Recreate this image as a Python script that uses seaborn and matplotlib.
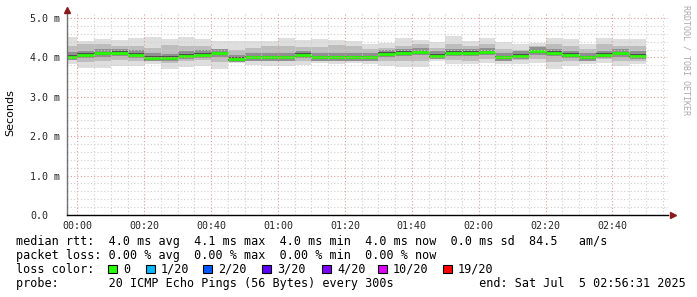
import matplotlib
matplotlib.use("Agg")
import matplotlib.pyplot as plt
from matplotlib.patches import Rectangle
from matplotlib.ticker import MultipleLocator, FixedLocator
import seaborn as sns
import pandas as pd
import numpy as np

# ---- data (minutes since 00:00, seconds in ms units) ----
bar_start = [-5, 0, 5, 10, 15, 20, 25, 30, 35, 40, 45, 50, 55, 60, 65, 70, 75, 80,
             85, 90, 95, 100, 105, 110, 115, 120, 125, 130, 135, 140, 145, 150, 155, 160, 165]
median = [4.02, 4.06, 4.10, 4.11, 4.07, 3.99, 3.98, 4.04, 4.07, 4.10, 3.96, 4.00,
          4.00, 4.00, 4.06, 4.00, 4.00, 4.00, 4.00, 4.08, 4.11, 4.13, 4.04, 4.11,
          4.11, 4.13, 4.00, 4.04, 4.15, 4.11, 4.06, 4.00, 4.06, 4.10, 4.04]
smoke_hi = [4.51, 4.42, 4.47, 4.45, 4.49, 4.51, 4.47, 4.51, 4.47, 4.41, 4.42, 4.41,
            4.41, 4.49, 4.44, 4.47, 4.45, 4.41, 4.34, 4.36, 4.49, 4.44, 4.38, 4.55,
            4.42, 4.48, 4.40, 4.34, 4.36, 4.49, 4.47, 4.34, 4.49, 4.47, 4.47]
smoke_lo = [3.83, 3.72, 3.72, 3.79, 3.79, 3.83, 3.70, 3.75, 3.79, 3.70, 3.87, 3.81,
            3.77, 3.77, 3.81, 3.87, 3.83, 3.87, 3.83, 3.77, 3.75, 3.75, 3.92, 3.83,
            3.83, 3.87, 3.83, 3.83, 3.87, 3.70, 3.79, 3.83, 3.87, 3.79, 3.83]
smoke_mhi = [4.30, 4.33, 4.35, 4.30, 4.28, 4.25, 4.32, 4.28, 4.30, 4.22, 4.20, 4.25,
             4.28, 4.30, 4.27, 4.26, 4.32, 4.28, 4.22, 4.25, 4.30, 4.33, 4.25, 4.35,
             4.30, 4.33, 4.22, 4.20, 4.30, 4.35, 4.30, 4.22, 4.33, 4.30, 4.28]
smoke_mlo = [3.93, 3.88, 3.90, 3.93, 3.92, 3.92, 3.85, 3.90, 3.93, 3.88, 3.92, 3.92,
             3.90, 3.91, 3.92, 3.93, 3.92, 3.94, 3.92, 3.92, 3.90, 3.92, 3.96, 3.93,
             3.92, 3.95, 3.92, 3.93, 3.96, 3.88, 3.90, 3.92, 3.95, 3.92, 3.92]
step = 5

x_tick_pos = [0, 20, 40, 60, 80, 100, 120, 140, 160]
x_tick_labels = ["00:00", "00:20", "00:40", "01:00", "01:20", "01:40", "02:00", "02:20", "02:40"]
y_tick_pos = [0, 1, 2, 3, 4, 5]
y_tick_labels = ["0.0", "1.0 m", "2.0 m", "3.0 m", "4.0 m", "5.0 m"]

loss_labels = ["0", "1/20", "2/20", "3/20", "4/20", "10/20", "19/20"]
loss_colors = ["#26ff00", "#00b8ff", "#0059ff", "#5e00ff", "#7e00ff", "#dd00ff", "#ff0000"]

row1 = "median rtt:  4.0 ms avg  4.1 ms max  4.0 ms min  4.0 ms now  0.0 ms sd  84.5   am/s"
row2 = "packet loss: 0.00 % avg  0.00 % max  0.00 % min  0.00 % now"
row3 = "loss color:"
row4 = "probe:       20 ICMP Echo Pings (56 Bytes) every 300s            end: Sat Jul  5 02:56:31 2025"

# ---- styling ----
sns.set_style("white")
plt.rcParams['font.family'] = ['DejaVu Sans']
MONO = 'DejaVu Sans Mono'

W, H = 697, 297
fig = plt.figure(figsize=(W / 100, H / 100), dpi=100, facecolor="white")
ax = fig.add_axes([67 / W, (H - 215) / H, 601 / W, 202 / H])
ax.set_facecolor("white")

med = np.array(median)
# smoke
ax.bar(bar_start, np.array(smoke_hi) - np.array(smoke_lo), bottom=smoke_lo, width=step,
       align="edge", color="#dedede", linewidth=0, zorder=1)
ax.bar(bar_start, np.array(smoke_mhi) - np.array(smoke_mlo), bottom=smoke_mlo, width=step,
       align="edge", color="#bdbdbd", linewidth=0, zorder=1.1)
ax.bar(bar_start, 0.19, bottom=med - 0.08, width=step,
       align="edge", color="#909090", linewidth=0, zorder=1.2)
ax.bar(bar_start, 0.09, bottom=med - 0.045, width=step,
       align="edge", color="#505050", linewidth=0, zorder=1.3)

# median (one horizontal segment per interval)
rows = []
for i, (s, m) in enumerate(zip(bar_start, median)):
    rows.append({"t": s, "med": m, "bar": i})
    rows.append({"t": s + step, "med": m, "bar": i})
df = pd.DataFrame(rows)
sns.lineplot(data=df, x="t", y="med", units="bar", estimator=None, color=loss_colors[0],
             linewidth=2.0, ax=ax, zorder=2, legend=False, solid_capstyle="butt")

ax.set_xlim(-3.1, 176.6)
ax.set_ylim(0, 5.127)
ax.set_xlabel("")
ax.set_ylabel("")

ax.xaxis.set_major_locator(FixedLocator(x_tick_pos))
ax.xaxis.set_minor_locator(MultipleLocator(5))
ax.yaxis.set_major_locator(FixedLocator(y_tick_pos))
ax.yaxis.set_minor_locator(MultipleLocator(0.2))
ax.set_xticklabels(x_tick_labels, fontfamily=MONO, fontsize=7.2)
ax.set_yticklabels(y_tick_labels, fontfamily=MONO, fontsize=7.2, ha="left")
ax.tick_params(axis="x", which="major", length=2, width=0.8, color="black", pad=2.0)
ax.tick_params(axis="x", which="minor", length=0)
ax.tick_params(axis="y", which="both", length=0, pad=26.6)

ax.set_axisbelow(False)
ax.grid(which="minor", color="#cfcfcf", linestyle=(0, (1, 2)), linewidth=0.8)
ax.grid(which="major", color="#e49a9a", linestyle=(0, (1, 2)), linewidth=0.8)

for sp in ["top", "right"]:
    ax.spines[sp].set_visible(False)
ax.spines["left"].set_color("#707070")
ax.spines["left"].set_linewidth(1.0)
ax.spines["bottom"].set_color("black")
ax.spines["bottom"].set_linewidth(1.0)
ax.spines["left"].set_zorder(3)
ax.spines["bottom"].set_zorder(3)

# arrows
ax.plot([0], [1.015], marker="^", markersize=4, color="#8b1a1a", transform=ax.transAxes,
        clip_on=False, zorder=5)
ax.plot([1.008], [0], marker=">", markersize=4, color="#8b1a1a", transform=ax.transAxes,
        clip_on=False, zorder=5)

# labels
fig.text(10 / W, (H - 113) / H, "Seconds", rotation=90, ha="center", va="center",
         fontsize=8, color="black")
fig.text(686 / W, (H - 60) / H, "RRDTOOL / TOBI OETIKER", rotation=270, ha="center",
         va="center", fontsize=6, color="#aaaaaa", fontfamily=MONO)

# legend rows
baselines = [244.5, 258.7, 272.7, 286.7]
for txt, b in zip([row1, row2, row3, row4], baselines):
    fig.text(16 / W, (H - b) / H, txt, fontfamily=MONO, fontsize=8.5, va="baseline",
             ha="left", color="black")

box_x = [108, 146, 203, 262, 322, 378, 443]
for bx, lab, col in zip(box_x, loss_labels, loss_colors):
    fig.add_artist(Rectangle((bx / W, (H - 273) / H), 8.5 / W, 8.5 / H,
                             transform=fig.transFigure, facecolor=col,
                             edgecolor="black", linewidth=0.8))
    fig.text((bx + 15) / W, (H - baselines[2]) / H, lab, fontfamily=MONO, fontsize=8.5,
             va="baseline", ha="left", color="black")

fig.savefig("out.png", dpi=100, facecolor="white")
